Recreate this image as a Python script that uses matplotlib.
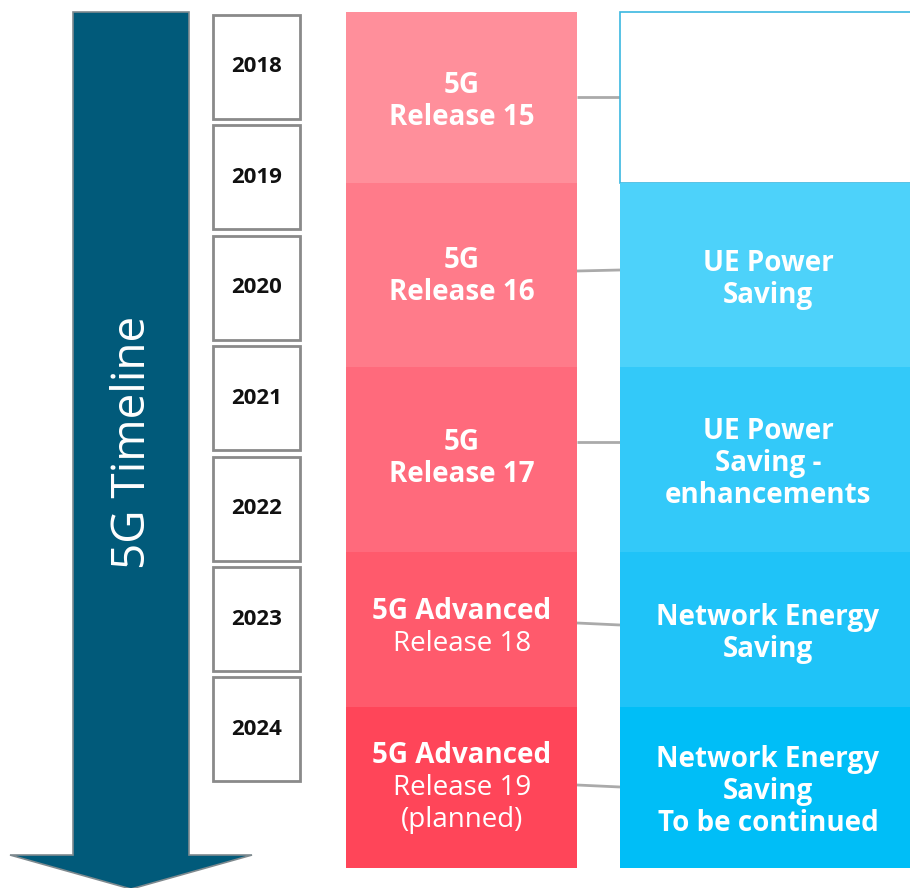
import matplotlib.pyplot as plt
from matplotlib.patches import Rectangle, Polygon

# --- data ---
years = ["2018", "2019", "2020", "2021", "2022", "2023", "2024"]
release_titles = ["5G", "5G", "5G", "5G Advanced", "5G Advanced"]
release_names = ["Release 15", "Release 16", "Release 17", "Release 18",
                 "Release 19\n(planned)"]
features = ["", "UE Power\nSaving", "UE Power\nSaving -\nenhancements",
            "Network Energy\nSaving", "Network Energy\nSaving\nTo be continued"]
pink_colors = ["#ff8f9b", "#ff7b8a", "#ff6a7c", "#ff5a6c", "#ff4559"]
blue_colors = ["#ffffff", "#4dd2fa", "#33c9f9", "#1fc3f8", "#00bef7"]

# layout (pixel coordinates, y down)
W, H = 910, 888
seg_edges = [12, 183, 367, 552, 707, 868]
text_shift = [3, 0, -2, -3, -1]   # small nudges per row (release column)
link_y = [(97, 97), (271, 270), (442, 442), (623, 625), (785, 787)]
year_top, year_pitch, year_h = 15, 110.4, 104
line_gap = 32     # px between text lines
fs = 20

fig = plt.figure(figsize=(W / 100, H / 100), dpi=100)
ax = fig.add_axes([0, 0, 1, 1])
ax.set_xlim(0, W)
ax.set_ylim(H, 0)
ax.axis("off")


def draw_lines(x, yc, lines, weights):
    # place each line by its baseline so that the block is centred on yc
    n = len(lines)
    for k, (s, w) in enumerate(zip(lines, weights)):
        y = yc + (k - (n - 1) / 2) * line_gap
        ax.text(x, y + 10, s, family="Open Sans", weight=w, color="white",
                fontsize=fs, ha="center", va="baseline", zorder=3)


# big timeline arrow
arrow = Polygon([(73, 12), (189, 12), (189, 855), (252, 855), (131, 889),
                 (10, 855), (73, 855)], closed=True,
                fc="#015a7a", ec="#7f8a8f", lw=1.2)
ax.add_patch(arrow)
ax.text(133, 442, "5G Timeline", rotation=90, family="Open Sans",
        fontsize=33, color="white", ha="center", va="center")

# year boxes
for i, yr in enumerate(years):
    top = year_top + i * year_pitch
    ax.add_patch(Rectangle((213, top), 87, year_h, fc="white",
                           ec="#8a8a8a", lw=2))
    ax.text(256.5, top + 52, yr, family="Open Sans", weight="bold",
            fontsize=16, color="#111111", ha="center", va="center")

# release / feature columns
for i in range(len(release_names)):
    y0, y1 = seg_edges[i], seg_edges[i + 1]
    ax.plot([577, 620], link_y[i], color="#aaaaaa", lw=2,
            solid_capstyle="butt", zorder=1)
    ax.add_patch(Rectangle((346, y0), 231, y1 - y0, fc=pink_colors[i],
                           ec="none", zorder=2))
    if i == 0:
        ax.add_patch(Rectangle((620, y0), 300, y1 - y0, fc="white",
                               ec="#3bb8e0", lw=1.2, zorder=2))
    else:
        ax.add_patch(Rectangle((620, y0), 300, y1 - y0, fc=blue_colors[i],
                               ec="none", zorder=2))
    ym = (y0 + y1) / 2
    names = release_names[i].split("\n")
    if release_titles[i] == "5G":
        draw_lines(462, ym - 1.5 + text_shift[i], [release_titles[i]] + names,
                   ["bold"] * (1 + len(names)))
    else:
        draw_lines(462, ym - 1.5 + text_shift[i], [release_titles[i]] + names,
                   ["bold"] + ["normal"] * len(names))
    if features[i]:
        f = features[i].split("\n")
        draw_lines(768, ym + 1.5, f, ["bold"] * len(f))

fig.savefig("out.png", dpi=100)
